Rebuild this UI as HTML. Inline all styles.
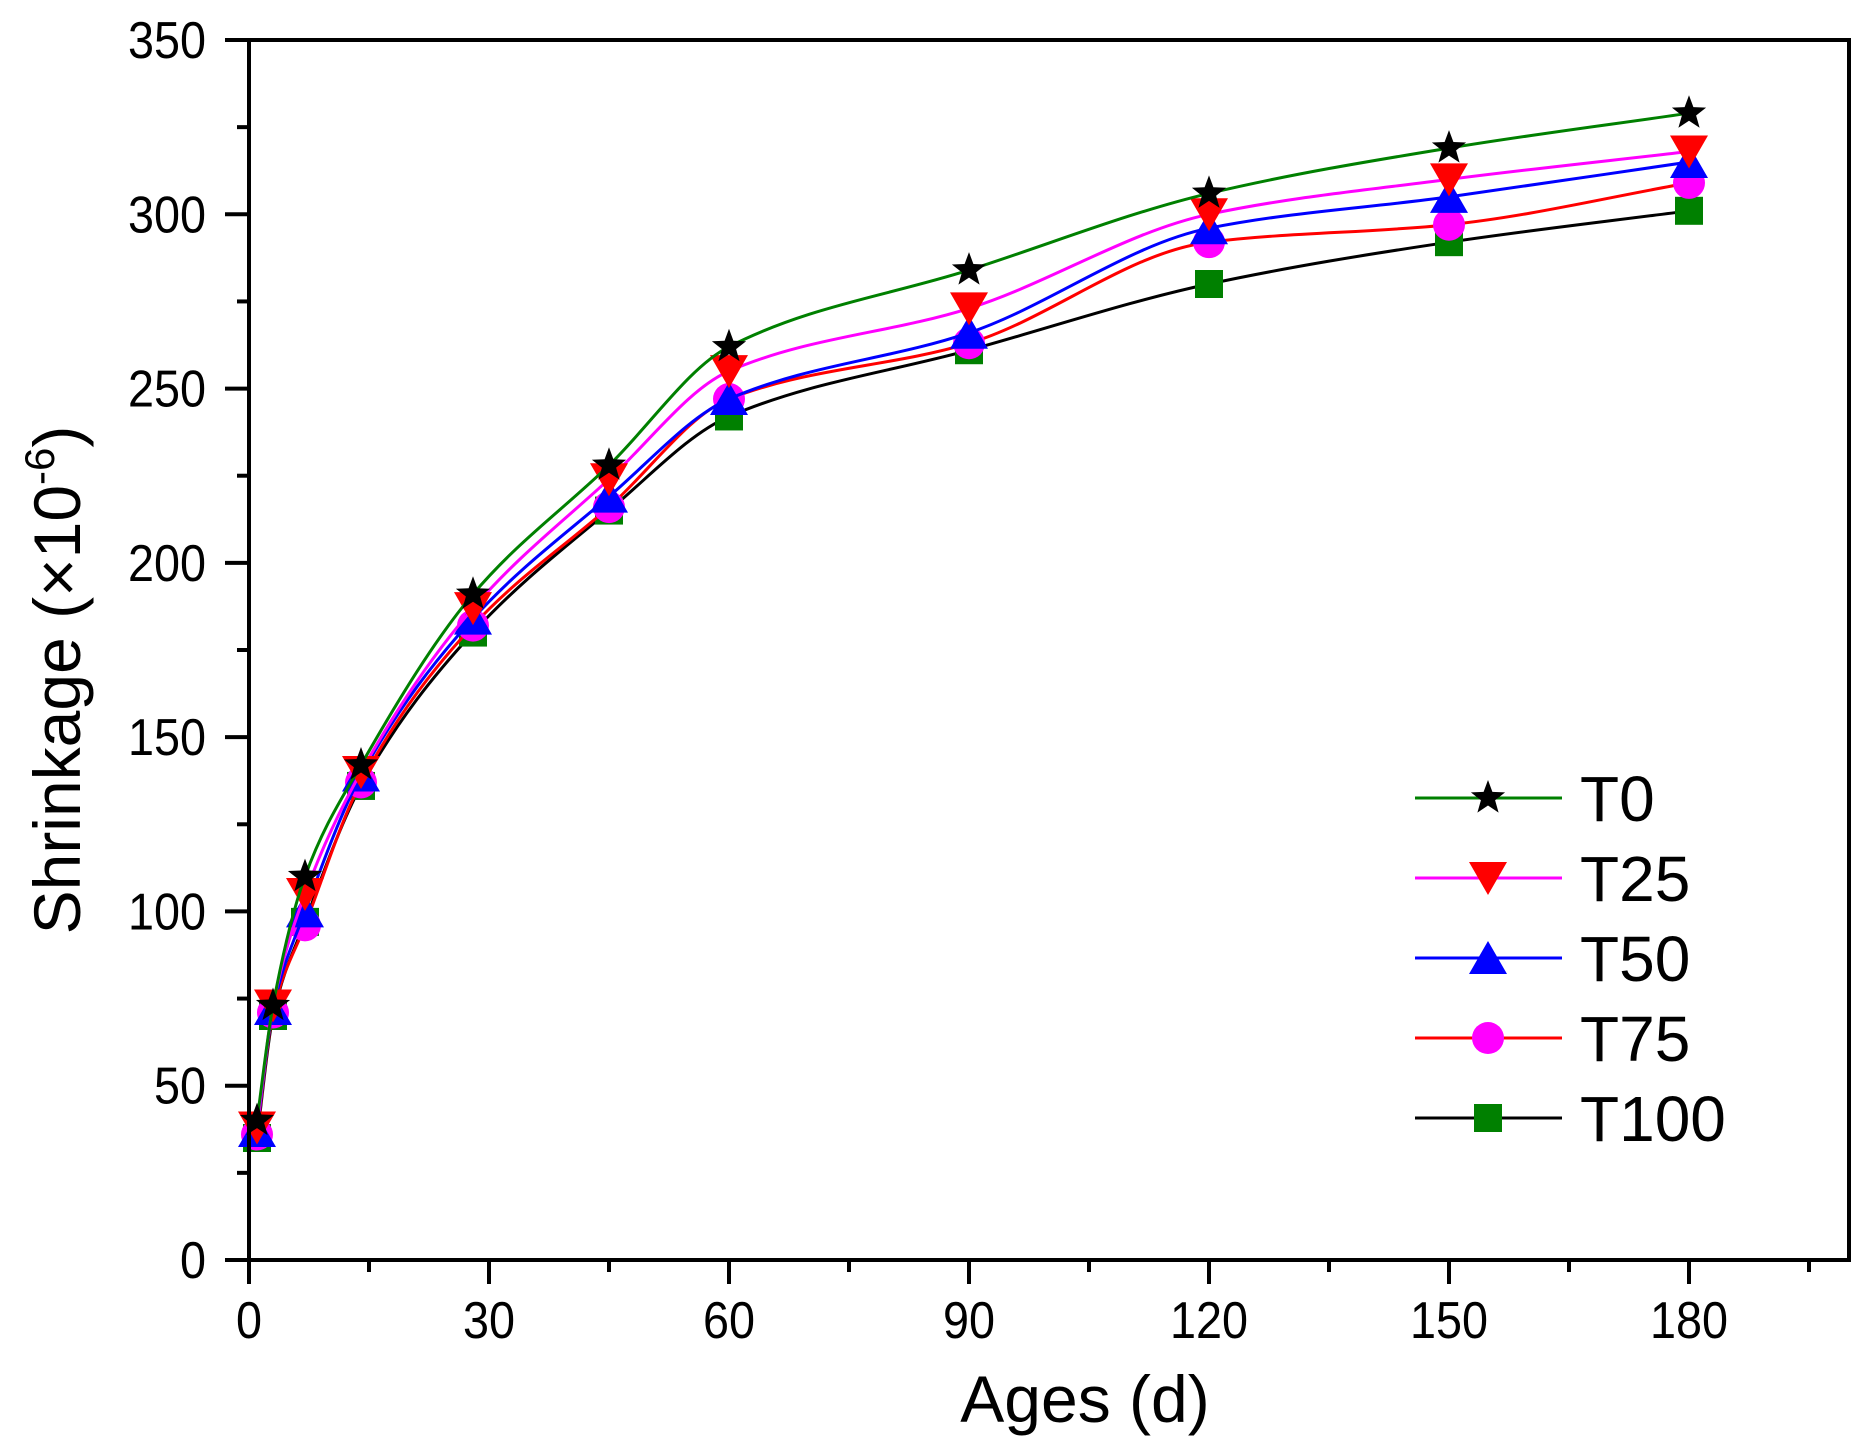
<!DOCTYPE html>
<html><head><meta charset="utf-8"><style>
html,body{margin:0;padding:0;background:#fff;}
svg{display:block;font-family:"Liberation Sans",Arial,sans-serif;}
</style></head><body>
<svg id="chart" width="1863" height="1443" viewBox="0 0 1863 1443" xmlns="http://www.w3.org/2000/svg">
<g id="plot"></g>
</svg>
<script>
const ages = [1,3,7,14,28,45,60,90,120,150,180];
const seriesNames = ["T0","T25","T50","T75","T100"];
const t0 = [40,73,110,142,191,228,262,284,306,319,329];
const t25 = [38,73,105,140,187,224,255,273,300,310,318];
const t50 = [37,72,100,139,184,219,247,266,296,305,315];
const t75 = [36,71,96,137,182,216,247,263,292,297,309];
const t100 = [35,70,97,136,180,215,242,261,280,292,301];
const xTicks = [0,30,60,90,120,150,180];
const yTicks = [0,50,100,150,200,250,300,350];

const L=249,R=1849,T=40,B=1260, XMAX=200, YMAX=350;
const sx=v=>L+(v/XMAX)*(R-L);
const sy=v=>B-(v/YMAX)*(B-T);
const NS="http://www.w3.org/2000/svg";
const svg=document.getElementById('chart');
function mk(tag,attrs,parent){const e=document.createElementNS(NS,tag);for(const k in attrs)e.setAttribute(k,attrs[k]);(parent||svg).appendChild(e);return e;}

const styles={
 T0:{line:"#008000",fill:"#000",shape:"star"},
 T25:{line:"#ff00ff",fill:"#ff0000",shape:"down"},
 T50:{line:"#0000ff",fill:"#0000ff",shape:"up"},
 T75:{line:"#ff0000",fill:"#ff00ff",shape:"circle"},
 T100:{line:"#000000",fill:"#008000",shape:"square"}
};
const dataMap={T0:t0,T25:t25,T50:t50,T75:t75,T100:t100};

function marker(shape,cx,cy,fill,parent){
 let e;
 if(shape==="star"){
  let p=[];for(let i=0;i<10;i++){const r=i%2?7.5:18;const a=-Math.PI/2+i*Math.PI/5;p.push((cx+r*Math.cos(a)).toFixed(1)+","+(cy+r*Math.sin(a)).toFixed(1));}
  e=mk('polygon',{points:p.join(' '),fill:fill},parent);
 }else if(shape==="down"){
  e=mk('polygon',{points:`${cx-19},${cy-16} ${cx+19},${cy-16} ${cx},${cy+17}`,fill:fill},parent);
 }else if(shape==="up"){
  e=mk('polygon',{points:`${cx-19},${cy+16} ${cx+19},${cy+16} ${cx},${cy-17}`,fill:fill},parent);
 }else if(shape==="circle"){
  e=mk('circle',{cx:cx,cy:cy,r:16,fill:fill},parent);
 }else{
  e=mk('rect',{x:cx-14,y:cy-14,width:28,height:28,fill:fill},parent);
 }
 return e;
}

// monotone cubic (Fritsch-Carlson) in pixel space
function spline(pts){
 const n=pts.length, d=[], m=[];
 for(let i=0;i<n-1;i++) d.push((pts[i+1][1]-pts[i][1])/(pts[i+1][0]-pts[i][0]));
 m[0]=d[0]; m[n-1]=d[n-2];
 for(let i=1;i<n-1;i++){
  if(d[i-1]*d[i]<=0) m[i]=0;
  else { const h0=pts[i][0]-pts[i-1][0], h1=pts[i+1][0]-pts[i][0];
   const w1=2*h1+h0, w2=h1+2*h0; m[i]=(w1+w2)/(w1/d[i-1]+w2/d[i]); }
 }
 let s=`M${pts[0][0].toFixed(1)},${pts[0][1].toFixed(1)}`;
 for(let i=0;i<n-1;i++){
  const h=(pts[i+1][0]-pts[i][0])/3;
  s+=` C${(pts[i][0]+h).toFixed(1)},${(pts[i][1]+m[i]*h).toFixed(1)} ${(pts[i+1][0]-h).toFixed(1)},${(pts[i+1][1]-m[i+1]*h).toFixed(1)} ${pts[i+1][0].toFixed(1)},${pts[i+1][1].toFixed(1)}`;
 }
 return s;
}

[...seriesNames].reverse().forEach(name=>{
 const st=styles[name], vals=dataMap[name];
 const g=mk('g',{});
 
 
 const pts=ages.map((a,i)=>[sx(a),sy(vals[i])]);
 const path=mk('path',{d:spline(pts),fill:'none',stroke:st.line,'stroke-width':3},g);
 
 
 pts.forEach((p,i)=>{
  const m=marker(st.shape,p[0],p[1],st.fill,g);
  
  
 });
});

const frame=mk('rect',{x:L,y:T,width:R-L,height:B-T,fill:'none',stroke:'#000','stroke-width':4});



for(let v=0;v<=195;v+=15){
 const major=v%30===0;
 const t=mk('line',{x1:sx(v),x2:sx(v),y1:B,y2:B+(major?24:12),stroke:'#000','stroke-width':4});
 
 
}
xTicks.forEach(v=>{
 const t=mk('text',{x:sx(v),y:1338,'font-size':52,'text-anchor':'middle',textLength:String(v).length*26,lengthAdjust:'spacingAndGlyphs'});
 t.textContent=v;
 
 
});
for(let v=0;v<=350;v+=25){
 const major=v%50===0;
 const t=mk('line',{x1:L,x2:L-(major?24:12),y1:sy(v),y2:sy(v),stroke:'#000','stroke-width':4});
 
 
}
yTicks.forEach(v=>{
 const t=mk('text',{x:206,y:sy(v)+18,'font-size':52,'text-anchor':'end',textLength:String(v).length*26,lengthAdjust:'spacingAndGlyphs'});
 t.textContent=v;
 
 
});
const xt=mk('text',{x:1085,y:1422,'font-size':66,'text-anchor':'middle'});
xt.textContent='Ages (d)';


const yt=mk('text',{x:0,y:0,'font-size':66,'text-anchor':'middle',transform:'translate(80,680) rotate(-90)'});
yt.innerHTML='Shrinkage (×10<tspan dy="-26" font-size="42">-6</tspan><tspan dy="26">)</tspan>';



const lg=mk('g',{});


seriesNames.forEach((name,i)=>{
 const st=styles[name], y=798+i*80;
 const e=mk('g',{},lg);
 
 
 mk('line',{x1:1415,x2:1562,y1:y,y2:y,stroke:st.line,'stroke-width':3},e);
 marker(st.shape,1488,y,st.fill,e);
 const tx=mk('text',{x:1580,y:y+23,'font-size':64},e);
 tx.textContent=name;
});
</script>
</body></html>
